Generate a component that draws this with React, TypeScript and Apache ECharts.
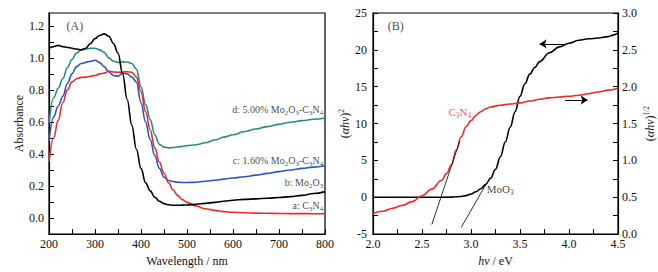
import React, { useEffect, useRef } from "react";
import * as echarts from "echarts";

// ---------- Panel A: UV-vis absorbance ----------
const wavelength = [
  200, 210, 220, 230, 240, 250, 260, 270, 280, 290, 300, 310, 320, 330, 340, 350, 360, 370, 380, 390, 400,
  410, 420, 430, 440, 450, 460, 470, 480, 490, 500, 520, 540, 560, 580, 600, 625, 650, 675, 700, 725, 750, 775, 800,
];
const absC3N4 = [
  0.35, 0.5, 0.61, 0.72, 0.8, 0.85, 0.87, 0.878, 0.88, 0.885, 0.89, 0.9, 0.905, 0.918, 0.912, 0.91, 0.912, 0.913, 0.91, 0.88, 0.79,
  0.665, 0.55, 0.44, 0.35, 0.28, 0.22, 0.175, 0.14, 0.115, 0.098, 0.075, 0.058, 0.048, 0.04, 0.036, 0.033, 0.031, 0.03, 0.029, 0.028, 0.028, 0.027, 0.027,
];
const absMo2O3 = [
  1.06, 1.07, 1.078, 1.07, 1.065, 1.06, 1.055, 1.05, 1.06, 1.09, 1.12, 1.14, 1.15, 1.135, 1.09, 1.03, 0.9, 0.74, 0.58, 0.43, 0.31,
  0.22, 0.17, 0.13, 0.105, 0.09, 0.083, 0.08, 0.08, 0.081, 0.082, 0.086, 0.092, 0.098, 0.105, 0.111, 0.117, 0.12, 0.124, 0.128, 0.134, 0.142, 0.153, 0.165,
];
const abs160 = [
  0.48, 0.63, 0.7, 0.76, 0.84, 0.9, 0.945, 0.965, 0.972, 0.978, 0.985, 0.97, 0.945, 0.912, 0.89, 0.885, 0.905, 0.9, 0.88, 0.85, 0.72,
  0.6, 0.49, 0.39, 0.31, 0.255, 0.235, 0.228, 0.224, 0.222, 0.222, 0.224, 0.23, 0.236, 0.243, 0.25, 0.258, 0.268, 0.279, 0.29, 0.3, 0.31, 0.318, 0.327,
];
const abs500 = [
  0.59, 0.75, 0.81, 0.87, 0.94, 0.99, 1.03, 1.05, 1.055, 1.06, 1.06, 1.05, 1.035, 1.0, 0.98, 0.972, 0.975, 0.974, 0.965, 0.93, 0.82,
  0.71, 0.615, 0.52, 0.46, 0.443, 0.438, 0.44, 0.444, 0.448, 0.452, 0.458, 0.47, 0.487, 0.505, 0.52, 0.54, 0.556, 0.571, 0.585, 0.598, 0.608, 0.617, 0.625,
];

// ---------- Panel B: Tauc plots ----------
const hvMoO3 = [
  2.0, 2.2, 2.4, 2.6, 2.8, 2.9, 2.95, 3.0, 3.05, 3.1, 3.15, 3.2, 3.25, 3.3, 3.35, 3.4, 3.45, 3.5, 3.55, 3.6, 3.65,
  3.7, 3.8, 3.9, 4.0, 4.1, 4.2, 4.3, 4.4, 4.45, 4.5,
];
const taucMoO3 = [
  0, 0, 0, 0, 0.02, 0.1, 0.22, 0.45, 0.75, 1.15, 1.75, 2.6, 3.8, 5.5, 7.5, 9.5, 11.6, 13.7, 15.4, 16.7, 17.6,
  18.4, 19.6, 20.4, 20.9, 21.3, 21.5, 21.6, 21.8, 22.0, 22.3,
];
const hvC3N4 = [
  2.0, 2.1, 2.2, 2.3, 2.4, 2.5, 2.6, 2.7, 2.75, 2.8, 2.85, 2.9, 2.95, 3.0, 3.05, 3.1, 3.15, 3.2, 3.3, 3.4, 3.5,
  3.6, 3.7, 3.8, 3.9, 4.0, 4.1, 4.2, 4.3, 4.4, 4.5,
];
const taucC3N4 = [
  0.28, 0.31, 0.35, 0.39, 0.44, 0.52, 0.61, 0.73, 0.82, 0.94, 1.14, 1.32, 1.46, 1.54, 1.61, 1.66, 1.7, 1.725, 1.748, 1.765, 1.78,
  1.805, 1.83, 1.848, 1.86, 1.87, 1.885, 1.905, 1.928, 1.953, 1.98,
];
const tangentC3N4 = [[2.6, -3.7], [2.885, 7.6]];
const tangentMoO3 = [[2.9, -4.1], [3.155, 1.8]];
const arrowLeft = [[3.96, 20.8], [3.7, 20.8]];
const arrowRight = [[3.96, 13.2], [4.19, 13.2]];

// tick label sets
const xTicksA = [200, 300, 400, 500, 600, 700, 800];
const yTicksA = ["0.0", "0.2", "0.4", "0.6", "0.8", "1.0", "1.2"];

const FONT = '"Liberation Serif", "Times New Roman", serif';
const RED = "#ee2a24";
const BLUE = "#2c55bf";
const TEAL = "#2a8a82";
const BLACK = "#000000";

const zip = (xs: number[], ys: number[]) => xs.map((x, i) => [x, ys[i]]);

const annRich = {
  t: { fontSize: 10, lineHeight: 14, color: "#111", fontFamily: FONT },
  s: { fontSize: 7, verticalAlign: "bottom", color: "#111", fontFamily: FONT },
  r: { fontSize: 11, lineHeight: 15, color: RED, fontFamily: FONT },
  rs: { fontSize: 7.5, verticalAlign: "bottom", color: RED, fontFamily: FONT },
  k: { fontSize: 11, lineHeight: 15, color: "#111", fontFamily: FONT },
  ks: { fontSize: 7.5, verticalAlign: "bottom", color: "#111", fontFamily: FONT },
  p: { fontSize: 12, lineHeight: 16, color: "#111", fontFamily: FONT },
};

const nameRich = {
  n: { fontSize: 12, lineHeight: 16, color: "#111", fontFamily: FONT },
  i: { fontSize: 12, lineHeight: 16, color: "#111", fontFamily: FONT, fontStyle: "italic" },
  p: { fontSize: 7.5, verticalAlign: "top", color: "#111", fontFamily: FONT },
};

function axisBase() {
  return {
    type: "value",
    axisLine: { show: true, onZero: false, lineStyle: { color: "#000", width: 1.2 } },
    axisTick: { show: true, inside: true, length: 5, lineStyle: { color: "#000", width: 1 } },
    splitLine: { show: false },
    nameLocation: "middle",
    nameTextStyle: { fontSize: 12, color: "#111", fontFamily: FONT },
  };
}

const isMult = (v: number, step: number) => Math.abs(v / step - Math.round(v / step)) < 1e-6;

export default function App() {
  const ref = useRef<HTMLDivElement>(null);
  useEffect(() => {
    if (!ref.current) return;
    const chart = echarts.init(ref.current, null, { renderer: "svg" });
    const lineSeries = (name: string, data: number[][], color: string, xi: number, yi: number) => ({
      name,
      type: "line",
      xAxisIndex: xi,
      yAxisIndex: yi,
      data,
      showSymbol: false,
      symbol: "none",
      smooth: 0.4,
      smoothMonotone: "x",
      lineStyle: { color, width: 1.6 },
      z: 3,
    });
    const textPoint = (xi: number, yi: number, items: any[]) => ({
      type: "scatter",
      xAxisIndex: xi,
      yAxisIndex: yi,
      symbolSize: 0,
      silent: true,
      data: items,
      z: 5,
    });
    const option: any = {
      animation: false,
      backgroundColor: "#ffffff",
      textStyle: { fontFamily: FONT },
      grid: [
        { left: 49, top: 13, width: 276, height: 224, show: true, borderColor: "#000", borderWidth: 1.2, backgroundColor: "transparent" },
        { left: 373, top: 13, width: 245, height: 224, show: true, borderColor: "#000", borderWidth: 1.2, backgroundColor: "transparent" },
      ],
      xAxis: [
        {
          ...axisBase(),
          gridIndex: 0,
          min: 200,
          max: 800,
          interval: 50,
          name: "Wavelength / nm",
          nameGap: 18,
          axisLabel: {
            color: "#111",
            fontSize: 12,
            margin: 4,
            fontFamily: FONT,
            formatter: (v: number) => (xTicksA.indexOf(v) >= 0 ? String(v) : ""),
          },
        },
        {
          ...axisBase(),
          gridIndex: 1,
          min: 2.0,
          max: 4.5,
          interval: 0.25,
          name: "{i|hv}{n| / eV}",
          nameGap: 18,
          nameTextStyle: { rich: nameRich, fontSize: 12, color: "#111" },
          axisLabel: {
            color: "#111",
            fontSize: 12,
            margin: 4,
            fontFamily: FONT,
            formatter: (v: number) => (isMult(v, 0.5) ? v.toFixed(1) : ""),
          },
        },
      ],
      yAxis: [
        {
          ...axisBase(),
          gridIndex: 0,
          min: -0.1,
          max: 1.28,
          interval: 0.1,
          name: "Absorbance",
          nameRotate: 90,
          nameGap: 22,
          axisLabel: {
            color: "#111",
            fontSize: 12,
            margin: 5,
            fontFamily: FONT,
            showMaxLabel: false,
            formatter: (v: number) => {
              const s = v.toFixed(1);
              return yTicksA.indexOf(s) >= 0 && isMult(v, 0.2) ? s : "";
            },
          },
        },
        {
          ...axisBase(),
          gridIndex: 1,
          position: "left",
          min: -5,
          max: 25,
          interval: 2.5,
          name: "{n|(}{i|αhv}{n|)}{p|2}",
          nameRotate: 90,
          nameGap: 20,
          nameTextStyle: { rich: nameRich, fontSize: 12, color: "#111" },
          axisLabel: {
            color: "#111",
            fontSize: 12,
            margin: 6,
            fontFamily: FONT,
            formatter: (v: number) => (isMult(v, 5) ? String(Math.round(v)) : ""),
          },
        },
        {
          ...axisBase(),
          gridIndex: 1,
          position: "right",
          min: 0,
          max: 3,
          interval: 0.25,
          name: "{n|(}{i|αhv}{n|)}{p|1/2}",
          nameRotate: 90,
          nameGap: 24,
          nameTextStyle: { rich: nameRich, fontSize: 12, color: "#111" },
          axisLabel: {
            color: "#111",
            fontSize: 12,
            margin: 4,
            fontFamily: FONT,
            formatter: (v: number) => (isMult(v, 0.5) ? v.toFixed(1) : ""),
          },
        },
      ],
      series: [
        lineSeries("d", zip(wavelength, abs500), TEAL, 0, 0),
        lineSeries("c", zip(wavelength, abs160), BLUE, 0, 0),
        lineSeries("a", zip(wavelength, absC3N4), RED, 0, 0),
        lineSeries("b", zip(wavelength, absMo2O3), BLACK, 0, 0),
        lineSeries("MoO3", zip(hvMoO3, taucMoO3), BLACK, 1, 1),
        lineSeries("C3N4", zip(hvC3N4, taucC3N4), RED, 1, 2),
        {
          type: "lines",
          coordinateSystem: "cartesian2d",
          xAxisIndex: 1,
          yAxisIndex: 1,
          symbol: ["none", "none"],
          lineStyle: { color: "#000", width: 0.8, opacity: 1 },
          data: [{ coords: tangentC3N4 }, { coords: tangentMoO3 }],
          z: 4,
        },
        {
          type: "lines",
          coordinateSystem: "cartesian2d",
          xAxisIndex: 1,
          yAxisIndex: 1,
          symbol: ["none", "arrow"],
          symbolSize: 7,
          lineStyle: { color: "#000", width: 1.1, opacity: 1 },
          data: [{ coords: arrowLeft }, { coords: arrowRight }],
          z: 4,
        },
        textPoint(0, 0, [
          { value: [796, 0.676], label: { show: true, position: "left", distance: 0, rich: annRich, formatter: "{t|d: 5.00% Mo}{s|2}{t|O}{s|3}{t|-C}{s|3}{t|N}{s|4}" } },
          { value: [796, 0.361], label: { show: true, position: "left", distance: 0, rich: annRich, formatter: "{t|c: 1.60% Mo}{s|2}{t|O}{s|3}{t|-C}{s|3}{t|N}{s|4}" } },
          { value: [796, 0.224], label: { show: true, position: "left", distance: 0, rich: annRich, formatter: "{t|b: Mo}{s|2}{t|O}{s|3}" } },
          { value: [796, 0.08], label: { show: true, position: "left", distance: 0, rich: annRich, formatter: "{t|a: C}{s|3}{t|N}{s|4}" } },
          { value: [238, 1.2], label: { show: true, position: "right", distance: 0, rich: annRich, formatter: "{p|(A)}" } },
        ]),
        textPoint(1, 1, [
          { value: [2.77, 11.6], label: { show: true, position: "right", distance: 0, rich: annRich, formatter: "{r|C}{rs|3}{r|N}{rs|4}" } },
          { value: [3.16, 1.1], label: { show: true, position: "right", distance: 0, rich: annRich, formatter: "{k|MoO}{ks|3}" } },
          { value: [2.15, 23.2], label: { show: true, position: "right", distance: 0, rich: annRich, formatter: "{p|(B)}" } },
        ]),
      ],
    };
    chart.setOption(option);
    return () => chart.dispose();
  }, []);
  return (
    <div
      ref={ref}
      style={{ position: "fixed", left: 0, top: 0, width: 658, height: 272, background: "#fff" }}
    />
  );
}
